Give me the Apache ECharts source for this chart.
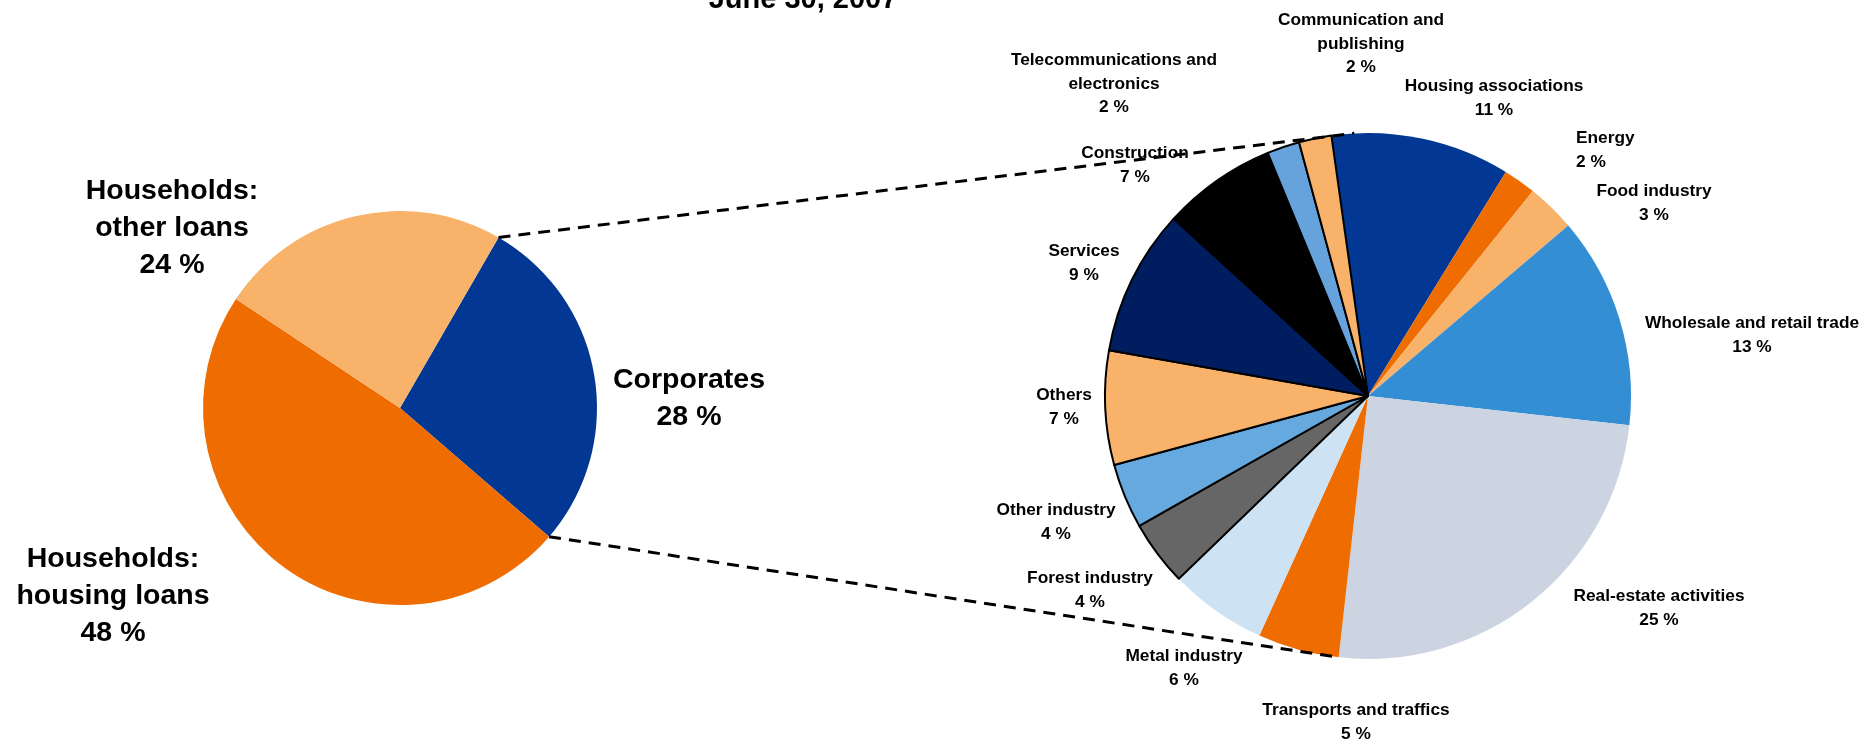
<!DOCTYPE html>
<html>
<head>
<meta charset="utf-8">
<script src="https://cdn.jsdelivr.net/npm/echarts@6/dist/echarts.min.js"></script>
<style>
  html, body { margin: 0; padding: 0; background: #fff; }
  #chart { width: 1870px; height: 744px; }
</style>
</head>
<body>
<div id="chart"></div>
<script>
// Loan stock by borrower group (left) and corporate loans by industry (right), %
const titleText = 'June 30, 2007';

const sectorNames = ['Corporates', 'Households:\nhousing loans', 'Households:\nother loans'];
const sectorValues = [28, 48, 24];

const industryNames = [
  'Housing associations', 'Energy', 'Food industry', 'Wholesale and retail trade',
  'Real-estate activities', 'Transports and traffics', 'Metal industry', 'Forest industry',
  'Other industry', 'Others', 'Services', 'Construction',
  'Telecommunications and\nelectronics', 'Communication and\npublishing'
];
const industryValues = [11, 2, 3, 13, 25, 5, 6, 4, 4, 7, 9, 7, 2, 2];

// slice colours
const sectorColors = ['#023893', '#EF6C00', '#F9B26A'];
const industryColors = [
  '#023893', '#EF6C00', '#F9B26A', '#338ED3', '#CCD3E1', '#EF6C00', '#CDE3F4',
  '#666666', '#66A9DE', '#F9B26A', '#001E5F', '#000000', '#66A3DD', '#F9B26A'
];
// slices drawn with a black outline
const industryOutlined = [false, false, false, false, false, false, false,
  true, true, true, true, true, true, true];

// geometry of the two pies
const leftCenter = [400, 408], leftRadius = 197, leftStart = 60;
const rightCenter = [1368, 396], rightRadius = 263, rightStart = 98;

// label anchor points [x, y, align]
const sectorLabelPos = [[689, 399], [113, 596], [172, 228]];
const industryLabelPos = [
  [1494, 98], [1576, 150, 'left'], [1654, 203], [1752, 335],
  [1659, 608], [1356, 722], [1184, 668], [1090, 590],
  [1056, 522], [1064, 407], [1084, 263], [1135, 165],
  [1114, 84], [1361, 44]
];

const font = 'Liberation Sans, Arial, sans-serif';

function pointOn(center, r, cwDeg) {
  const a = cwDeg * Math.PI / 180;
  return [center[0] + r * Math.sin(a), center[1] - r * Math.cos(a)];
}

// connector lines: the corporate slice of the left pie opens up into the right pie
const corpStartCw = 90 - leftStart;
const corpEndCw = corpStartCw + sectorValues[0] / sectorValues.reduce((a, b) => a + b, 0) * 360;
const rightTotal = industryValues.reduce((a, b) => a + b, 0);
const rightStartCw = 90 - rightStart;
const lowerRightCw = rightStartCw + industryValues.slice(0, 5).reduce((a, b) => a + b, 0) / rightTotal * 360;
const upperRightCw = -3;

const p1 = pointOn(leftCenter, leftRadius, corpStartCw);
const p2 = pointOn(rightCenter, rightRadius, upperRightCw);
const p3 = pointOn(leftCenter, leftRadius, corpEndCw);
const p4 = pointOn(rightCenter, rightRadius, lowerRightCw);

const dashStyle = { stroke: '#000', lineWidth: 3, lineDash: [12, 8] };

const chart = echarts.init(document.getElementById('chart'), null, { renderer: 'canvas' });
chart.setOption({
  animation: false,
  backgroundColor: '#ffffff',
  graphic: [
    {
      type: 'text', z: 100,
      style: {
        text: titleText, x: 803, y: 0, align: 'center', verticalAlign: 'middle',
        font: 'bold 29px ' + font, fill: '#000'
      }
    },
    { type: 'line', z: 100, shape: { x1: p1[0], y1: p1[1], x2: p2[0], y2: p2[1] }, style: dashStyle },
    { type: 'line', z: 100, shape: { x1: p3[0], y1: p3[1], x2: p4[0], y2: p4[1] }, style: dashStyle }
  ],
  series: [
    {
      type: 'pie',
      center: leftCenter,
      radius: leftRadius,
      startAngle: leftStart,
      clockwise: true,
      avoidLabelOverlap: false,
      silent: true,
      data: sectorNames.map((n, i) => ({
        name: n, value: sectorValues[i],
        itemStyle: { color: sectorColors[i], borderWidth: 0 }
      })),
      label: {
        show: true, position: 'outside',
        formatter: p => p.name + '\n' + p.value + ' %',
        fontFamily: font, fontWeight: 'bold', fontSize: 28.5, lineHeight: 37, color: '#000'
      },
      labelLine: { show: false },
      labelLayout: p => {
        const q = sectorLabelPos[p.dataIndex];
        return { x: q[0], y: q[1], align: q[2] || 'center', verticalAlign: 'middle' };
      }
    },
    {
      type: 'pie',
      center: rightCenter,
      radius: rightRadius,
      startAngle: rightStart,
      clockwise: true,
      avoidLabelOverlap: false,
      silent: true,
      data: industryNames.map((n, i) => ({
        name: n, value: industryValues[i],
        itemStyle: {
          color: industryColors[i],
          borderColor: '#000',
          borderWidth: industryOutlined[i] ? 2 : 0
        }
      })),
      label: {
        show: true, position: 'outside',
        formatter: p => p.name + '\n' + p.value + ' %',
        fontFamily: font, fontWeight: 'bold', fontSize: 17.3, lineHeight: 23.5, color: '#000'
      },
      labelLine: { show: false },
      labelLayout: p => {
        const q = industryLabelPos[p.dataIndex];
        return { x: q[0], y: q[1], align: q[2] || 'center', verticalAlign: 'middle' };
      }
    }
  ]
});
</script>
</body>
</html>
